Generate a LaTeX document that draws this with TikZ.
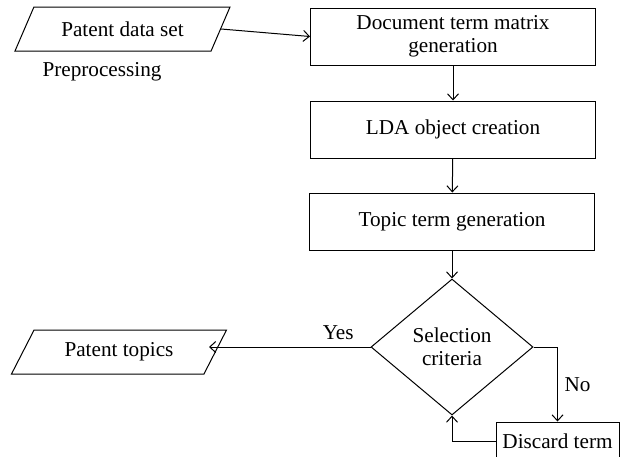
\documentclass[tikz,border=0pt]{standalone}
\usepackage{fontspec}
\setmainfont{Liberation Serif}
\usetikzlibrary{shapes.geometric, arrows.meta}

\begin{document}
\begin{tikzpicture}[x=0.5pt, y=-0.5pt, line width=0.5pt,
		>={Straight Barb[length=3pt, width=5.5pt]},
		font=\fontsize{10.6}{11.5}\selectfont,
		process/.style={draw, shape=rectangle, minimum width=142.5pt, minimum height=28.5pt, align=center, inner sep=1pt},
		io/.style={draw, trapezium, trapezium left angle=45, trapezium right angle=135, trapezium stretches body, minimum width=107.5pt, minimum height=22pt, inner sep=1pt},
		decision/.style={draw, diamond, aspect=1.19, minimum width=81pt, minimum height=68pt, align=center, inner sep=0pt}]
		\useasboundingbox (0,0) rectangle (624,456);
		\node (data) [io] at (122.5,29) {Patent data set};
		\node (prep) at (102,72) {Preprocessing};
		\node (dtm) [process] at (453,36.5) {Document term matrix\\generation};
		\node (lda) [process] at (453,129.5) {LDA object creation};
		\node (topic) [process] at (452,221.5) {Topic term generation};
		\node (sel) [decision] at (452,347) {Selection\\criteria};
		\node (topics) [io] at (119,352) {Patent topics};
		\node (disc) [process, minimum width=61.5pt, minimum height=19pt] at (557.5,441) {Discard term};
		\coordinate (yesend) at (209,347);
		\draw [->] (data.east) -- (dtm.west);
		\draw [->] (dtm) -- (lda);
		\draw [->] (lda) -- (topic);
		\draw [->] (topic) -- (sel);
		\draw [->] (sel.west) -- node [pos=0.2, above] {Yes} (yesend);
		\draw [->] (sel.east) -| node [pos=0.75, right] {No} (disc.north);
		\draw [->] (disc.west) -| (sel.south);
\end{tikzpicture}
\end{document}
